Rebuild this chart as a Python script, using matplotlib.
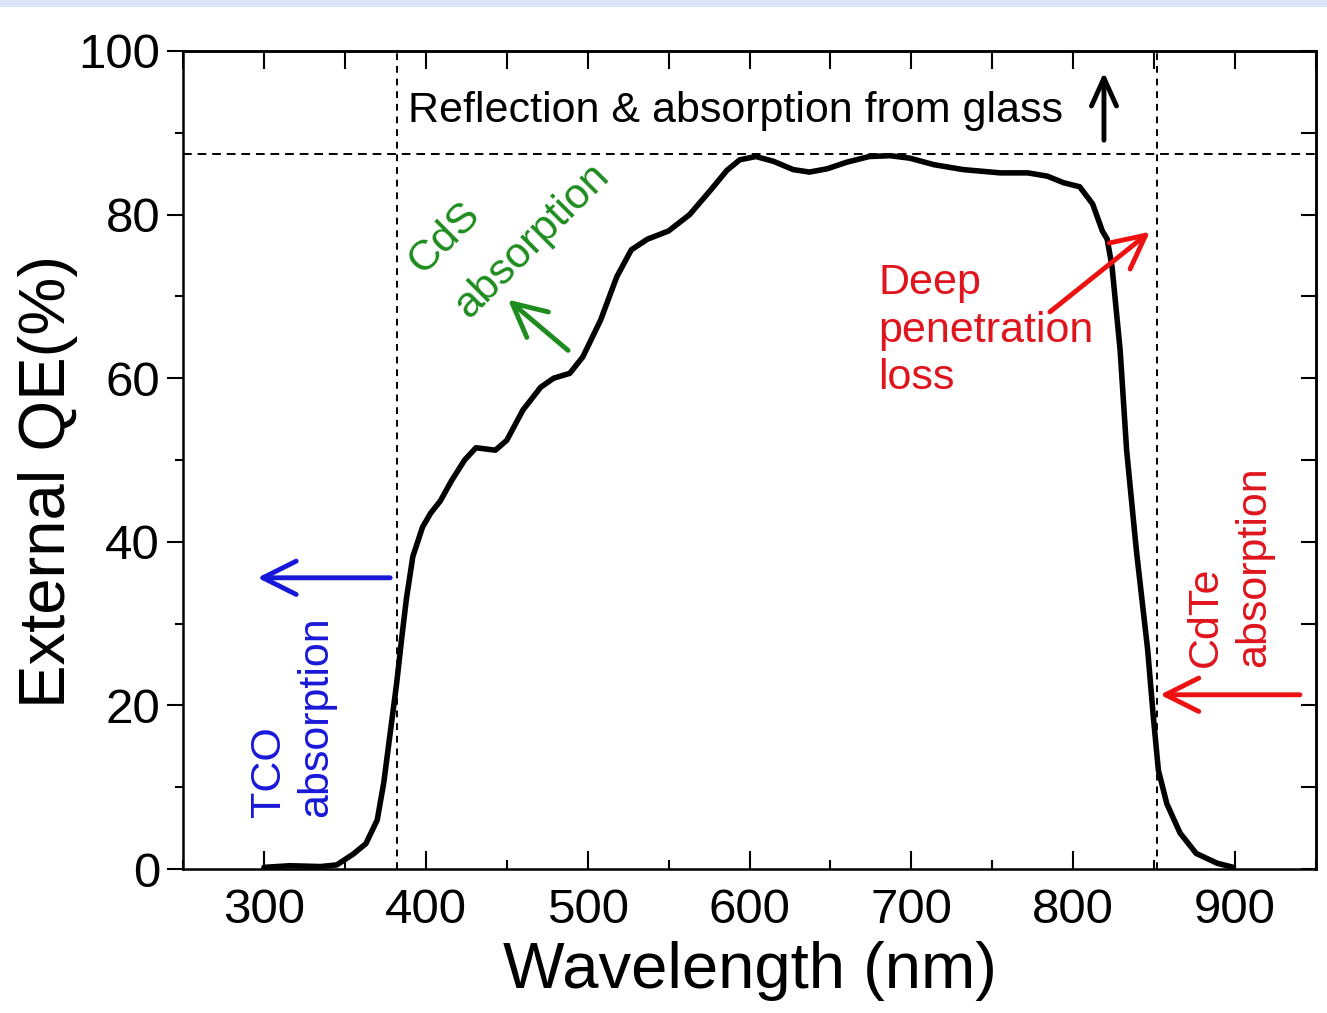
import matplotlib
matplotlib.use('Agg')
import matplotlib.pyplot as plt
from matplotlib.ticker import MultipleLocator
from matplotlib.patches import Rectangle

# ---- data ----
wavelength = [300, 316, 335, 345, 355, 363, 370, 374, 378, 382, 385, 388, 392, 398,
              403, 409, 416, 424, 431, 443, 450, 460, 471, 479, 489, 497, 508, 518,
              527, 537, 550, 563, 576, 586, 594, 604, 615, 627, 637, 648, 660, 674,
              687, 699, 714, 732, 755, 772, 784, 794, 804, 812, 818, 821, 824, 829,
              833, 839, 846, 849.5, 852.6, 857.8, 866, 876, 889, 899]
qe = [0.2, 0.4, 0.3, 0.5, 1.8, 3.1, 6.0, 10.5, 16.6, 22.7, 28.0, 33.0, 38.2, 41.8,
      43.5, 45.0, 47.5, 50.0, 51.5, 51.2, 52.4, 56.1, 58.9, 60.0, 60.6, 62.6, 67.1, 72.4,
      75.7, 77.0, 78.0, 80.0, 83.0, 85.4, 86.7, 87.1, 86.5, 85.5, 85.2, 85.6, 86.4, 87.1,
      87.2, 86.9, 86.1, 85.5, 85.1, 85.1, 84.7, 83.9, 83.4, 81.3, 78.0, 77.0, 73.6, 63.4,
      51.2, 39.0, 26.8, 18.6, 12.1, 8.0, 4.4, 1.9, 0.7, 0.2]

x_ticks = [300, 400, 500, 600, 700, 800, 900]
y_ticks = [0, 20, 40, 60, 80, 100]

glass_level = 87.4
tco_edge = 382
cdte_edge = 852

plt.rcParams['font.family'] = ['Liberation Sans', 'DejaVu Sans']

W, H = 1327, 1013
fig = plt.figure(figsize=(W / 100, H / 100), dpi=100)
fig.patches.append(Rectangle((0, 1 - 7 / H), 1, 7 / H, transform=fig.transFigure,
                             facecolor='#dce6f8', edgecolor='none', zorder=0))

ax = fig.add_axes([183 / W, 144 / H, 1133 / W, 818 / H])
ax.plot(wavelength, qe, color='black', lw=4, solid_joinstyle='round',
        solid_capstyle='round', zorder=5)
ax.set_xlim(250, 950)
ax.set_ylim(0, 100)

# reference lines
ax.axhline(glass_level, color='black', lw=1.4, dashes=(4.5, 3), zorder=3)
ax.axvline(tco_edge, color='black', lw=1.4, dashes=(3.5, 3), zorder=3)
ax.axvline(cdte_edge, color='black', lw=1.4, dashes=(3.5, 3), zorder=3)

# axes styling
for s in ax.spines.values():
    s.set_linewidth(1.8)
ax.set_xticks(x_ticks)
ax.set_yticks(y_ticks)
ax.xaxis.set_minor_locator(MultipleLocator(50))
ax.yaxis.set_minor_locator(MultipleLocator(10))
ax.tick_params(axis='x', which='major', direction='in', length=13, width=1.5,
               labelsize=35.5, pad=14, top=False)
ax.tick_params(axis='x', which='minor', direction='in', length=6.5, width=1.5, top=False)
ax.tick_params(axis='y', which='major', direction='out', length=11.5, width=1.5,
               labelsize=35.5, pad=5, right=False)
ax.tick_params(axis='y', which='minor', direction='out', length=5.8, width=1.5, right=False)

top = ax.secondary_xaxis('top')
top.xaxis.set_major_locator(MultipleLocator(50))
top.tick_params(axis='x', which='major', direction='in', length=13, width=1.5, labeltop=False)
top.spines['top'].set_linewidth(1.8)
right = ax.secondary_yaxis('right')
right.yaxis.set_major_locator(MultipleLocator(10))
right.tick_params(axis='y', which='major', direction='in', length=10.8, width=1.5, labelright=False)
right.spines['right'].set_linewidth(1.8)

ax.set_xlabel('Wavelength (nm)', fontsize=47)
ax.xaxis.set_label_coords(0.5, -0.088)
ax.set_ylabel('External QE(%)', fontsize=47)
ax.yaxis.set_label_coords(-0.093, 0.474)

blue = '#1818d8'
green = '#1e8c1e'
red = '#e0141c'
fs = 31

def arrow(head, tail, color, hl=1.2, hw=0.6):
    ax.annotate('', xy=head, xytext=tail,
                arrowprops=dict(arrowstyle=f'->,head_length={hl},head_width={hw}',
                                lw=3.5, color=color, mutation_scale=20,
                                shrinkA=0, shrinkB=0), zorder=6)

# glass
ax.text(389, 91.3, 'Reflection & absorption from glass', fontsize=fs,
        ha='left', va='baseline', color='black')
arrow((819, 97.4), (819, 89.1), 'black', hl=1.0, hw=0.45)

# TCO
arrow((296, 35.6), (378, 35.6), blue)
ax.text(317.6, 6.3, 'TCO\nabsorption', rotation=90, ha='center', va='bottom',
        multialignment='left', linespacing=1.25, fontsize=fs, color=blue)

# CdS
ax.text(398.5, 72.6, 'CdS', rotation=45, rotation_mode='anchor', ha='left',
        va='baseline', fontsize=fs, color=green)
ax.text(426.5, 67.1, 'absorption', rotation=45, rotation_mode='anchor', ha='left',
        va='baseline', fontsize=fs, color=green)
arrow((450.8, 69.6), (487.9, 63.4), green)

# Deep penetration loss
ax.text(679.4, 74.1, 'Deep\npenetration\nloss', ha='left', va='top',
        linespacing=1.25, fontsize=fs, color=red)
arrow((847.4, 77.9), (785.6, 68.1), '#ee1111')

# CdTe
ax.text(896.9, 24.7, 'CdTe\nabsorption', rotation=90, ha='center', va='bottom',
        multialignment='left', linespacing=1.25, fontsize=fs, color=red)
arrow((853.6, 21.3), (940.1, 21.3), '#ee1111')

fig.savefig('out.png', dpi=100)
